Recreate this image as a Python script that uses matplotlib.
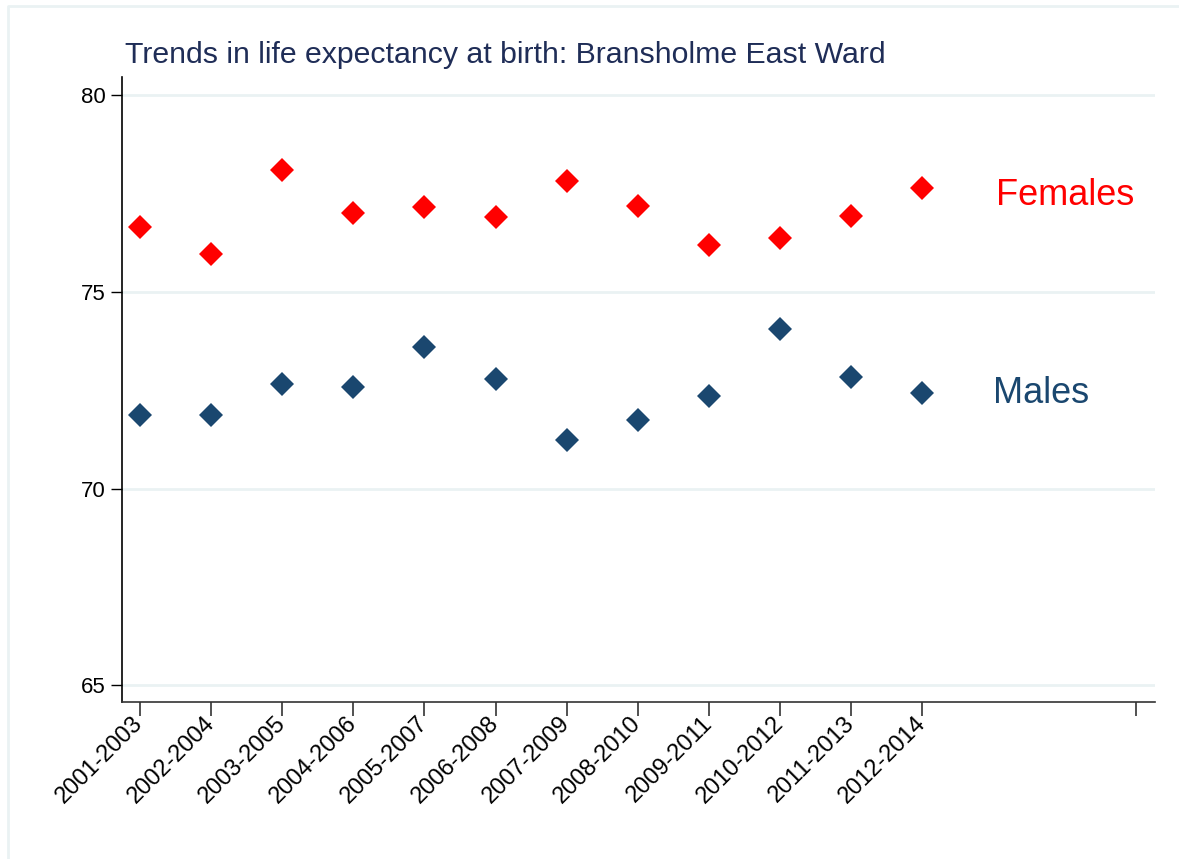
import numpy as np
import matplotlib
matplotlib.use("Agg")
from matplotlib import pyplot as plt
from matplotlib.lines import Line2D

plt.rcParams['font.family'] = ['Liberation Sans', 'DejaVu Sans']

periods = ['2001-2003', '2002-2004', '2003-2005', '2004-2006', '2005-2007', '2006-2008',
           '2007-2009', '2008-2010', '2009-2011', '2010-2012', '2011-2013', '2012-2014']
females = [76.64, 75.96, 78.09, 77.0, 77.15, 76.9, 77.81, 77.18, 76.19, 76.36, 76.92, 77.64]
males = [71.86, 71.86, 72.65, 72.58, 73.59, 72.78, 71.23, 71.74, 72.35, 74.05, 72.83, 72.42]
yticks = [65, 70, 75, 80]

red = '#ff0000'
navy = '#1a476f'
grid_col = '#eaf2f3'

fig = plt.figure(figsize=(11.79, 8.59), dpi=100)
# light frame along top and left edge (image is cropped on the other sides)
fig.lines.append(Line2D([8 / 1179, 8 / 1179, 1.0], [0.0, 1 - 6 / 859, 1 - 6 / 859],
                        transform=fig.transFigure, color=grid_col, linewidth=2))
ax = fig.add_axes([0.1035, 0.1828, 0.8761, 0.7272])

x = np.arange(1, len(periods) + 1)
ax.plot(x, females, linestyle='none', marker='D', markersize=12, color=red, markeredgewidth=0)
ax.plot(x, males, linestyle='none', marker='D', markersize=12, color=navy, markeredgewidth=0)

ax.text(13.03, 77.46, 'Females', color=red, fontsize=26, va='center', ha='left')
ax.text(12.99, 72.42, 'Males', color=navy, fontsize=26, va='center', ha='left')

ax.set_xlim(0.75, 15.27)
ax.set_ylim(64.57, 80.46)
ax.set_yticks(yticks)
ax.set_yticklabels([str(v) for v in yticks])
ax.set_xticks(list(x) + [15])
ax.set_xticklabels(periods + [''], rotation=45, ha='right', va='center', rotation_mode='anchor')

for v in yticks:
    ax.axhline(v, color=grid_col, linewidth=2, zorder=0)

for s in ['top', 'right']:
    ax.spines[s].set_visible(False)
ax.spines['left'].set_linewidth(1.2)
ax.spines['bottom'].set_linewidth(1.2)
ax.spines['bottom'].set_color('#333333')
ax.tick_params(axis='y', length=8, width=1, labelsize=16, pad=4)
ax.tick_params(axis='x', length=10, width=1.2, labelsize=17, pad=3, color='#333333')

fig.text(125 / 1179, 1 - 55 / 859, 'Trends in life expectancy at birth: Bransholme East Ward',
         color='#1f2d57', fontsize=21.8, ha='left', va='center')

fig.savefig('out.png', dpi=100, facecolor='white')
